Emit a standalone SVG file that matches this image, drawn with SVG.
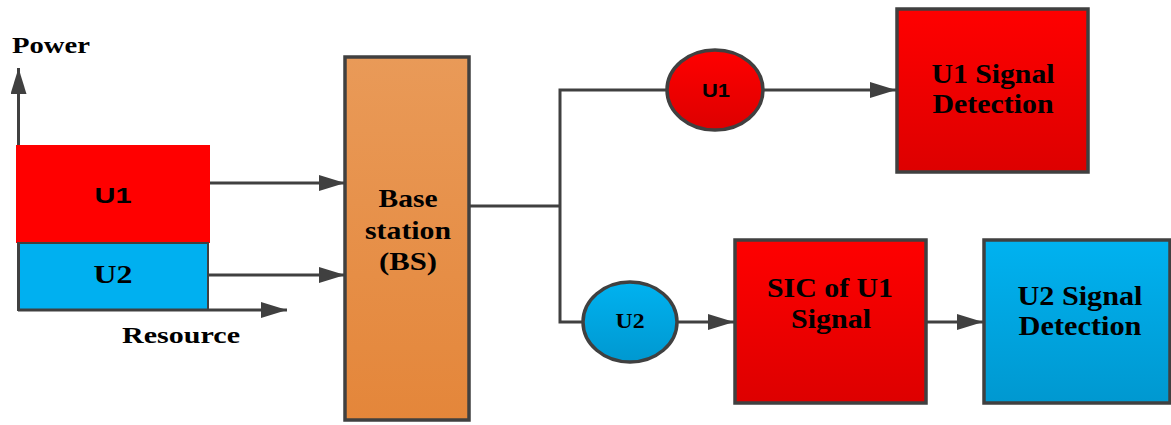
<svg xmlns="http://www.w3.org/2000/svg" width="1171" height="425" viewBox="0 0 1171 425">
<style>
.line{stroke:#404040;stroke-width:3;fill:none}
.arr{marker-end:url(#ah)}
.box{stroke:#404040;stroke-width:3.5}
.t{font-family:"Liberation Serif",serif;font-weight:bold;fill:#000;text-anchor:middle}
.ts{font-family:"Liberation Sans",sans-serif;font-weight:bold;fill:#000;text-anchor:middle}
</style>
<defs>
<marker id="ah" markerWidth="26" markerHeight="16" refX="26" refY="8" orient="auto" markerUnits="userSpaceOnUse">
<path d="M0,0 L26,8 L0,16 Z" fill="#404040"/>
</marker>
<linearGradient id="red" x1="0" y1="0" x2="0" y2="1"><stop offset="0" stop-color="#FF0000"/><stop offset="1" stop-color="#DD0000"/></linearGradient>
<linearGradient id="blue" x1="0" y1="0" x2="0" y2="1"><stop offset="0" stop-color="#00B2F0"/><stop offset="1" stop-color="#0098D0"/></linearGradient>
<linearGradient id="orange" x1="0" y1="0" x2="0" y2="1"><stop offset="0" stop-color="#E99A58"/><stop offset="1" stop-color="#E4863A"/></linearGradient>
</defs>

<g id="chart">
<rect x="16" y="145" width="194" height="98" fill="#FF0000"/>
<rect x="18" y="243" width="190" height="67" fill="#00B0F0" stroke="#404040" stroke-width="2"/>
<text class="ts" x="113" y="203" font-size="22" textLength="37" lengthAdjust="spacingAndGlyphs">U1</text>
<text class="t" x="113" y="283" font-size="25" textLength="39" lengthAdjust="spacingAndGlyphs">U2</text>
<text class="t" x="51" y="53" font-size="24" textLength="78" lengthAdjust="spacingAndGlyphs">Power</text>
<text class="t" x="181" y="343" font-size="23" textLength="118" lengthAdjust="spacingAndGlyphs">Resource</text>
</g>

<g id="bs">
<rect class="box" x="345" y="57" width="124" height="363" fill="url(#orange)"/>
<text class="t" x="408" y="207" font-size="25" textLength="59" lengthAdjust="spacingAndGlyphs">Base</text>
<text class="t" x="408" y="239" font-size="25" textLength="86" lengthAdjust="spacingAndGlyphs">station</text>
<text class="t" x="408" y="270" font-size="25" textLength="58" lengthAdjust="spacingAndGlyphs">(BS)</text>
</g>

<g id="u1">
<ellipse cx="715" cy="90" rx="48" ry="40" fill="url(#red)" stroke="#404040" stroke-width="3.5"/>
<text class="ts" x="716" y="97" font-size="19" textLength="28" lengthAdjust="spacingAndGlyphs">U1</text>
</g>

<g id="u2">
<ellipse cx="630" cy="322" rx="47" ry="40" fill="url(#blue)" stroke="#404040" stroke-width="3.5"/>
<text class="t" x="630" y="328" font-size="22" textLength="29" lengthAdjust="spacingAndGlyphs">U2</text>
</g>

<g id="u1det">
<rect class="box" x="897" y="9" width="191" height="163" fill="url(#red)"/>
<text class="t" x="993" y="83" font-size="27" textLength="123" lengthAdjust="spacingAndGlyphs">U1 Signal</text>
<text class="t" x="993" y="113" font-size="27" textLength="121" lengthAdjust="spacingAndGlyphs">Detection</text>
</g>

<g id="sic">
<rect class="box" x="735" y="240" width="191" height="163" fill="url(#red)"/>
<text class="t" x="830" y="297" font-size="27" textLength="126" lengthAdjust="spacingAndGlyphs">SIC of U1</text>
<text class="t" x="831" y="328" font-size="27" textLength="80" lengthAdjust="spacingAndGlyphs">Signal</text>
</g>

<g id="u2det">
<rect class="box" x="984" y="240" width="186" height="163" fill="url(#blue)"/>
<text class="t" x="1080" y="305" font-size="27" textLength="125" lengthAdjust="spacingAndGlyphs">U2 Signal</text>
<text class="t" x="1080" y="335" font-size="27" textLength="123" lengthAdjust="spacingAndGlyphs">Detection</text>
</g>

<g id="connectors">
<path class="line arr" d="M18.5,145 L18.5,68"/>
<path class="line" d="M18.5,243 L18.5,310"/>
<path class="line arr" d="M18,310 L287,310"/>
<path class="line arr" d="M210,183 L345,183"/>
<path class="line arr" d="M208,275 L345,275"/>
<path class="line" d="M469,206 L560,206 M560,90 L560,322 M558.5,90 L667,90 M558.5,322 L583,322"/>
<path class="line arr" d="M763,90 L896,90"/>
<path class="line arr" d="M677,322 L734,322"/>
<path class="line arr" d="M926,322 L983,322"/>
</g>
</svg>
